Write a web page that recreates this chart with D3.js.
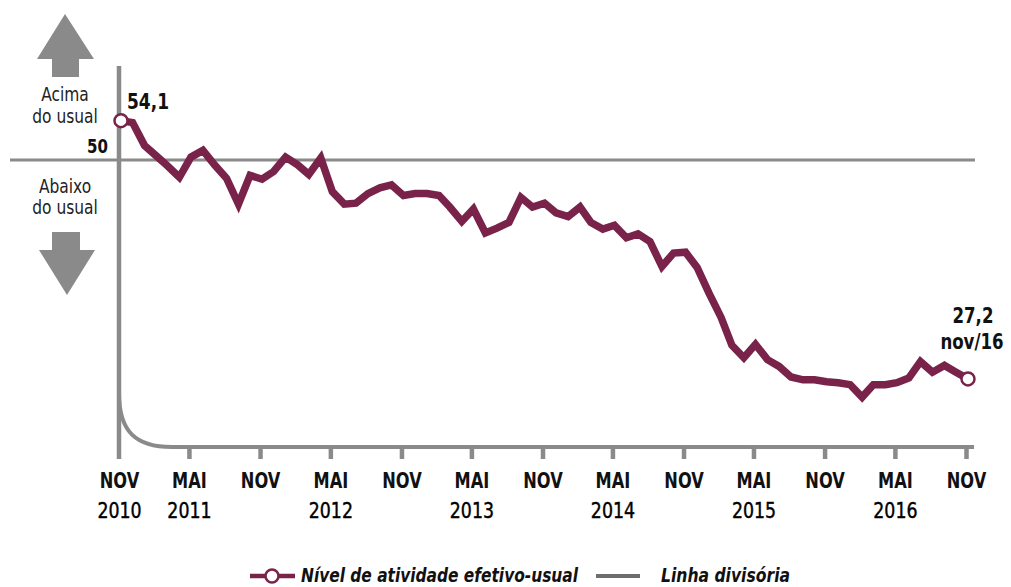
<!DOCTYPE html>
<html lang="pt">
<head>
<meta charset="UTF-8">
<title>Nível de atividade efetivo-usual</title>
<style>
  body { margin: 0; background: #fff; }
  svg text { font-family: "Liberation Sans Narrow", "DejaVu Sans Condensed", "Noto Sans", sans-serif; }
</style>
</head>
<body>
<div id="chart"></div>
<script src="https://cdnjs.cloudflare.com/ajax/libs/d3/7.8.5/d3.min.js"></script>
<script>
// monthly series, nov/2010 .. nov/2016
var firstMonth = new Date(2010, 10, 1);
var values = [
  54.1, 53.9, 51.5, 50.4, 49.4, 48.2, 50.3, 51.0, 49.5, 48.1, 45.4, 48.4,
  48.0, 48.8, 50.3, 49.5, 48.5, 50.2, 46.7, 45.4, 45.5, 46.5, 47.1, 47.4,
  46.3, 46.5, 46.5, 46.3, 45.1, 43.6, 44.9, 42.4, 42.9, 43.5, 46.1, 45.1,
  45.5, 44.5, 44.1, 45.1, 43.5, 42.8, 43.2, 41.9, 42.3, 41.5, 38.9, 40.3,
  40.4, 38.8, 36.1, 33.6, 30.7, 29.4, 30.8, 29.2, 28.5, 27.4, 27.1, 27.1,
  26.9, 26.8, 26.6, 25.3, 26.6, 26.6, 26.8, 27.3, 29.0, 27.9, 28.6, 27.9,
  27.2
];
var tickMonths = ["NOV", "MAI", "NOV", "MAI", "NOV", "MAI", "NOV", "MAI", "NOV", "MAI", "NOV", "MAI", "NOV"];
var tickYears = ["2010", "2011", "", "2012", "", "2013", "", "2014", "", "2015", "", "2016", ""];
var divisionValue = 50;
var legendLabels = ["Nível de atividade efetivo-usual", "Linha divisória"];
var lastLabel = "nov/16";

var width = 1011, height = 587;
var lineColor = "#79234a";
var grey = "#8a8a8a";

var dates = values.map(function (d, i) { return d3.timeMonth.offset(firstMonth, i); });
var tickDates = tickMonths.map(function (d, i) { return d3.timeMonth.offset(firstMonth, i * 6); });

var x = d3.scaleTime()
  .domain([dates[0], dates[dates.length - 1]])
  .range([121, 968]);

var y = d3.scaleLinear()
  .domain([50, 25])
  .range([160, 400]);

var svg = d3.select("#chart").append("svg")
  .attr("width", width)
  .attr("height", height);

// condensed look: squeeze text horizontally around its anchor
function squeeze(sel, px, py, k) {
  return sel.attr("transform", "translate(" + px + "," + py + ") scale(" + k + ",1)");
}

// arrows
svg.append("path")
  .attr("d", "M65,14 L94,59 L79,59 L79,77 L52,77 L52,59 L37,59 Z")
  .attr("fill", grey);
svg.append("path")
  .attr("d", "M52,232 L80,232 L80,250 L95,250 L67,295 L39,250 L52,250 Z")
  .attr("fill", grey);

var sideText = [["Acima", 101], ["do usual", 123], ["Abaixo", 193], ["do usual", 214]];
svg.append("g").selectAll("text")
  .data(sideText)
  .enter()
  .append("text")
  .attr("text-anchor", "middle")
  .attr("font-size", 20)
  .attr("fill", "#222")
  .each(function (d) { squeeze(d3.select(this), 65, d[1], 0.86); })
  .text(function (d) { return d[0]; });

// division line
svg.append("line")
  .attr("x1", 10).attr("x2", 975)
  .attr("y1", y(divisionValue)).attr("y2", y(divisionValue))
  .attr("stroke", grey)
  .attr("stroke-width", 3);

squeeze(svg.append("text"), 108, 153, 0.88)
  .attr("text-anchor", "end")
  .attr("font-size", 19)
  .attr("font-weight", "bold")
  .attr("fill", "#111")
  .text(String(divisionValue));

// axes frame
var axisY = 447;
svg.append("line")
  .attr("x1", 119).attr("x2", 119)
  .attr("y1", 66).attr("y2", 459)
  .attr("stroke", grey)
  .attr("stroke-width", 4.5);

svg.append("path")
  .attr("d", "M119,393 C119,432 136,447 172,447 L974,447")
  .attr("fill", "none")
  .attr("stroke", grey)
  .attr("stroke-width", 4);

var ticks = svg.append("g");
ticks.selectAll("line")
  .data(tickDates.slice(1))
  .enter()
  .append("line")
  .attr("x1", function (d) { return x(d) - 1.5; })
  .attr("x2", function (d) { return x(d) - 1.5; })
  .attr("y1", axisY)
  .attr("y2", 459)
  .attr("stroke", grey)
  .attr("stroke-width", 4.5);

ticks.selectAll("text.m")
  .data(tickDates)
  .enter()
  .append("text")
  .attr("class", "m")
  .attr("text-anchor", "middle")
  .attr("font-size", 22)
  .attr("font-weight", "bold")
  .attr("fill", "#111")
  .each(function (d) { squeeze(d3.select(this), x(d) - 1.5, 488, 0.82); })
  .text(function (d, i) { return tickMonths[i]; });

ticks.selectAll("text.yr")
  .data(tickDates)
  .enter()
  .append("text")
  .attr("class", "yr")
  .attr("text-anchor", "middle")
  .attr("font-size", 21)
  .attr("fill", "#000")
  .attr("stroke", "#000")
  .attr("stroke-width", 0.4)
  .each(function (d) { squeeze(d3.select(this), x(d) - 1.5, 518, 0.92); })
  .text(function (d, i) { return tickYears[i]; });

// series
var line = d3.line()
  .x(function (d, i) { return x(dates[i]); })
  .y(function (d) { return y(d); });

svg.append("path")
  .datum(values)
  .attr("d", line)
  .attr("fill", "none")
  .attr("stroke", lineColor)
  .attr("stroke-width", 7.5)
  .attr("stroke-linejoin", "miter")
  .attr("stroke-miterlimit", 3);

var ends = [0, values.length - 1];
svg.selectAll("circle.end")
  .data(ends)
  .enter()
  .append("circle")
  .attr("class", "end")
  .attr("cx", function (i) { return x(dates[i]); })
  .attr("cy", function (i) { return y(values[i]); })
  .attr("r", 6.5)
  .attr("fill", "#fff")
  .attr("stroke", lineColor)
  .attr("stroke-width", 2.5);

var fmt = function (v) { return d3.format(".1f")(v).replace(".", ","); };

squeeze(svg.append("text"), x(dates[0]) + 6, y(values[0]) - 12, 0.86)
  .attr("font-size", 22)
  .attr("font-weight", "bold")
  .attr("fill", "#111")
  .text(fmt(values[0]));

var last = values.length - 1;
squeeze(svg.append("text"), x(dates[last]) + 5, y(values[last]) - 56, 0.84)
  .attr("text-anchor", "middle")
  .attr("font-size", 22)
  .attr("font-weight", "bold")
  .attr("fill", "#111")
  .text(fmt(values[last]));
squeeze(svg.append("text"), x(dates[last]) + 4, y(values[last]) - 30, 0.84)
  .attr("text-anchor", "middle")
  .attr("font-size", 22)
  .attr("font-weight", "bold")
  .attr("fill", "#111")
  .text(lastLabel);

// legend
var legend = svg.append("g").attr("transform", "translate(0,576)");
legend.append("line")
  .attr("x1", 250).attr("x2", 295)
  .attr("stroke", lineColor).attr("stroke-width", 4.5);
legend.append("circle")
  .attr("cx", 272).attr("r", 6.5)
  .attr("fill", "#fff").attr("stroke", lineColor).attr("stroke-width", 2.5);
legend.append("text")
  .attr("x", 301).attr("y", 6)
  .attr("font-size", 19.5).attr("font-weight", "bold").attr("font-style", "italic")
  .attr("fill", "#111")
  .attr("textLength", 277).attr("lengthAdjust", "spacingAndGlyphs")
  .text(legendLabels[0]);
legend.append("line")
  .attr("x1", 596).attr("x2", 640)
  .attr("stroke", "#6e6e6e").attr("stroke-width", 4);
legend.append("text")
  .attr("x", 661).attr("y", 6)
  .attr("font-size", 19.5).attr("font-weight", "bold").attr("font-style", "italic")
  .attr("fill", "#111")
  .attr("textLength", 129).attr("lengthAdjust", "spacingAndGlyphs")
  .text(legendLabels[1]);
</script>
</body>
</html>
